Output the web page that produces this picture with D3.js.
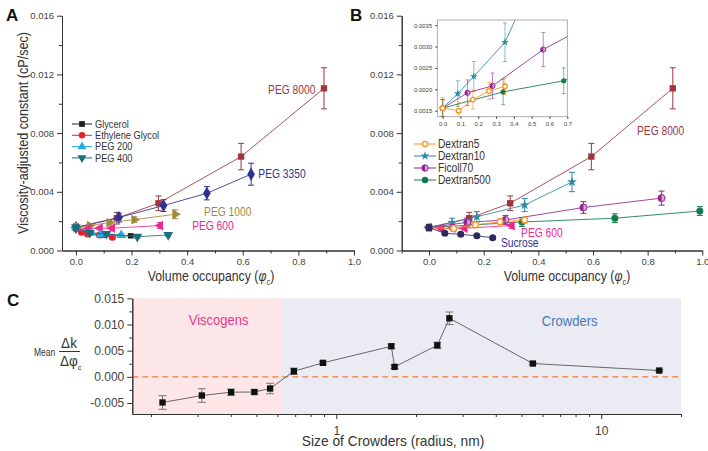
<html>
<head>
<script src="https://cdn.jsdelivr.net/npm/d3@7"></script>
<style>
  body { margin: 0; background: white; font-family: "Liberation Sans", Arial, Helvetica, sans-serif; }
  svg { display: block; }
  .tick text { fill: #444; }
  .domain, .tick line { stroke: #333; }
</style>
</head>
<body>
<svg id="fig" width="708" height="451"></svg>
<script>
// ---- panel A series: [phi, k, err]
const glycerol = [[0, 0.00157, 0.00015], [0.05, 0.0012, 0.0001], [0.1, 0.00103, 0.0001], [0.197, 0.001, 0.0001]];
const ethyleneGlycol = [[0, 0.00157, 0.00015], [0.02, 0.00125, 0.0001], [0.042, 0.00113, 0.0001], [0.085, 0.00105, 0.0001], [0.131, 0.0009, 0.0001]];
const peg200 = [[0, 0.00157, 0.00015], [0.055, 0.0012, 0.0001], [0.09, 0.00108, 0.0001], [0.163, 0.00105, 0.0001]];
const peg400 = [[0, 0.00157, 0.00015], [0.05, 0.0012, 0.0001], [0.11, 0.00113, 0.0001], [0.221, 0.00094, 0.0001], [0.332, 0.00106, 0.0001]];
const peg600 = [[0, 0.00157, 0.00015], [0.045, 0.0015, 0.0001], [0.086, 0.00152, 0.0001], [0.13, 0.00152, 0.00012], [0.303, 0.0017, 0.0002]];
const peg1000 = [[0, 0.00157, 0.00015], [0.05, 0.0017, 0.00012], [0.12, 0.0019, 0.00015], [0.21, 0.0021, 0.0002], [0.357, 0.00247, 0.0003]];
const peg3350 = [[0, 0.00157, 0.0002], [0.155, 0.00225, 0.0003], [0.315, 0.00306, 0.0004], [0.471, 0.0039, 0.00045], [0.63, 0.0052, 0.00075]];
const peg8000 = [[0, 0.00157, 0.0002], [0.147, 0.0022, 0.0004], [0.297, 0.00322, 0.0005], [0.594, 0.0064, 0.0009], [0.892, 0.01105, 0.0014]];

// ---- panel B series
const dextran5 = [[0, 0.00156, 0.00025], [0.09, 0.0015, 0.0002], [0.17, 0.00176, 0.00022], [0.26, 0.00196, 0.0002], [0.35, 0.00207, 0.0002]];
const dextran10 = [[0, 0.00156, 0.0002], [0.085, 0.0019, 0.0003], [0.175, 0.0023, 0.00035], [0.35, 0.0031, 0.00045], [0.523, 0.00467, 0.00066]];
const ficoll70 = [[0, 0.00156, 0.0002], [0.14, 0.00192, 0.0003], [0.28, 0.00208, 0.0003], [0.565, 0.00293, 0.0004], [0.851, 0.00357, 0.00048]];
const dextran500 = [[0, 0.00156, 0.0002], [0.34, 0.00194, 0.0003], [0.68, 0.0022, 0.0003], [0.991, 0.00269, 0.0003]];
const sucrose = [[0, 0.00156, 0.0002], [0.058, 0.00117, 0.0001], [0.116, 0.0011, 0.0001], [0.175, 0.001, 0.0001], [0.233, 0.00087, 0.0001]];

// ---- panel C
const radius = [0.221, 0.311, 0.401, 0.491, 0.563, 0.692, 0.891, 1.614, 1.66, 2.407, 2.673, 5.52, 16.56];
const meanSlope = [-0.0049, -0.00357, -0.00293, -0.0029, -0.00223, 0.00107, 0.00267, 0.00584, 0.0019, 0.00603, 0.01118, 0.00254, 0.0012];
const slopeErr = [0.0013, 0.0013, 0.0006, 0.0004, 0.001, 0.0006, 0.0003, 0.0004, 0.0003, 0.0006, 0.0012, 0.0002, 0.0002];
const viscogenLimit = 0.62;

// ---- ticks
const kTicks = [0, 0.004, 0.008, 0.012, 0.016];
const phiTicks = [0, 0.2, 0.4, 0.6, 0.8, 1.0];
const insetPhiTicks = [0, 0.1, 0.2, 0.3, 0.4, 0.5, 0.6, 0.7];
const insetKTicks = [0.0015, 0.002, 0.0025, 0.003, 0.0035];
const slopeTicks = [-0.005, 0, 0.005, 0.01, 0.015];
const radiusTicks = [1, 10];

const svg = d3.select("#fig");
const font = '"Liberation Sans", Arial, sans-serif';

function txt(g, x, y, s, o = {}) {
  let t = g.append("text")
    .attr("transform", `translate(${x},${y}) rotate(${o.rotate || 0}) scale(${o.sx || 0.82},1)`)
    .attr("font-family", font)
    .attr("font-size", o.size || 12)
    .attr("font-weight", o.weight || "normal")
    .attr("fill", o.fill || "#333")
    .attr("text-anchor", o.anchor || "start")
  if (s != null) t.text(s)
  return t
}

function marker(g, shape, color, x, y, r) {
  r = r || 3.5
  let k = (r / 3.5) * (r / 3.5)
  if (shape == "circle") {
    g.append("circle").attr("cx", x).attr("cy", y).attr("r", r).attr("fill", color)
  } else if (shape == "open") {
    g.append("circle").attr("cx", x).attr("cy", y).attr("r", r - 0.6).attr("fill", "white").attr("stroke", color).attr("stroke-width", 1.3)
  } else if (shape == "half") {
    g.append("circle").attr("cx", x).attr("cy", y).attr("r", r).attr("fill", "#d7a3da").attr("stroke", color).attr("stroke-width", 1)
    g.append("path").attr("d", `M${x},${y - r}A${r},${r} 0 0 0 ${x},${y + r}Z`).attr("fill", color)
  } else {
    let types = { square: d3.symbolSquare, diamond: d3.symbolDiamond, star: d3.symbolStar, tri: d3.symbolTriangle, triDown: d3.symbolTriangle, triRight: d3.symbolTriangle, triLeft: d3.symbolTriangle }
    let rot = { triDown: 180, triRight: 90, triLeft: -90 }[shape] || 0
    let size = { square: 40, diamond: 50, star: 30 }[shape] || 42
    g.append("path").attr("d", d3.symbol().type(types[shape]).size(size * k)())
      .attr("transform", `translate(${x},${y}) rotate(${rot})`).attr("fill", color)
  }
}

function drawSeries(g, data, s, x, y, cap) {
  let line = d3.line().x(d => x(d[0])).y(d => y(d[1]))
  g.append("path").attr("d", line(data)).attr("fill", "none").attr("stroke", s.color).attr("stroke-width", 1).attr("stroke-opacity", 0.85)
  data.forEach(d => {
    let eg = g.append("g").attr("stroke", s.color).attr("stroke-width", s.ew || 1).attr("stroke-opacity", s.eo || 1)
    eg.append("line").attr("x1", x(d[0])).attr("x2", x(d[0])).attr("y1", y(d[1] - d[2])).attr("y2", y(d[1] + d[2]))
    eg.append("line").attr("x1", x(d[0]) - cap).attr("x2", x(d[0]) + cap).attr("y1", y(d[1] - d[2])).attr("y2", y(d[1] - d[2]))
    eg.append("line").attr("x1", x(d[0]) - cap).attr("x2", x(d[0]) + cap).attr("y1", y(d[1] + d[2])).attr("y2", y(d[1] + d[2]))
  })
  data.forEach(d => marker(g, s.shape, s.color, x(d[0]), y(d[1]), s.r))
}

function phiTitle(g, x, y) {
  let t = txt(g, x, y, null, { size: 15, anchor: "middle", sx: 0.82 })
  t.append("tspan").text("Volume occupancy (")
  t.append("tspan").attr("font-style", "italic").text("φ")
  t.append("tspan").attr("font-size", 9).attr("dy", 4).text("c")
  t.append("tspan").attr("dy", -4).text(")")
}

function phiAxes(g, x, y, xMinor) {
  g.append("g").attr("transform", `translate(0,${y.range()[0]})`)
    .call(d3.axisBottom(x).tickValues(xMinor).tickSize(3).tickFormat("").tickSizeOuter(0))
  g.append("g").attr("transform", `translate(0,${y.range()[0]})`)
    .call(d3.axisBottom(x).tickValues(phiTicks).tickSize(5).tickFormat(d3.format(".1f")).tickSizeOuter(0))
    .selectAll("text").attr("font-size", 9.5)
  g.append("g").attr("transform", `translate(${x.range()[0]},0)`)
    .call(d3.axisLeft(y).tickValues([0.002, 0.006, 0.01, 0.014]).tickSize(3).tickFormat("").tickSizeOuter(0))
  g.append("g").attr("transform", `translate(${x.range()[0]},0)`)
    .call(d3.axisLeft(y).tickValues(kTicks).tickSize(5).tickFormat(d3.format(".3f")).tickSizeOuter(0))
    .selectAll("text").attr("font-size", 9.5)
  g.selectAll(".tick text").attr("font-family", font)
  g.selectAll("g").attr("font-family", font)
}

// ================= Panel A
const xA = d3.scaleLinear().domain([-0.05, 1.0]).range([62, 354])
const yA = d3.scaleLinear().domain([0, 0.016]).range([250.5, 15.7])
const gA = svg.append("g")
phiAxes(gA, xA, yA, [0.1, 0.3, 0.5, 0.7, 0.9])

const seriesA = [
  { data: peg8000, color: "#a0353c", shape: "square" },
  { data: peg3350, color: "#2e3192", shape: "diamond" },
  { data: peg1000, color: "#9c8a3e", shape: "triRight" },
  { data: peg600, color: "#ec2a8e", shape: "triLeft" },
  { data: glycerol, color: "#231f20", shape: "square", r: 3 },
  { data: ethyleneGlycol, color: "#e5212b", shape: "circle" },
  { data: peg200, color: "#27a9e1", shape: "tri" },
  { data: peg400, color: "#1b6e7c", shape: "triDown" }
]
seriesA.forEach(s => drawSeries(gA, s.data, s, xA, yA, 3))

const labelsA = [
  { name: "PEG 8000", phi: 0.861, k: 0.01066, color: "#a0353c", anchor: "end" },
  { name: "PEG 3350", phi: 0.656, k: 0.00494, color: "#2e3192", anchor: "start" },
  { name: "PEG 1000", phi: 0.461, k: 0.00235, color: "#9c8a3e", anchor: "start" },
  { name: "PEG 600", phi: 0.418, k: 0.0014, color: "#ec2a8e", anchor: "start" }
]
labelsA.forEach(l => txt(gA, xA(l.phi), yA(l.k), l.name, { size: 12.5, fill: l.color, anchor: l.anchor }))

const legendA = [
  { name: "Glycerol", color: "#231f20", shape: "square" },
  { name: "Ethylene Glycol", color: "#e5212b", shape: "circle" },
  { name: "PEG 200", color: "#27a9e1", shape: "tri" },
  { name: "PEG 400", color: "#1b6e7c", shape: "triDown" }
]
legendA.forEach((l, i) => {
  let ly = 124 + i * 11.3
  gA.append("line").attr("x1", 72).attr("x2", 92).attr("y1", ly).attr("y2", ly).attr("stroke", l.color).attr("stroke-width", 1)
  marker(gA, l.shape, l.color, 82, ly, 3.2)
  txt(gA, 95, ly + 3.6, l.name, { size: 10.5, fill: "#333", sx: 0.88 })
})

txt(gA, 28, 133, "Viscosity-adjusted constant (cP/sec)", { size: 15, anchor: "middle", rotate: -90, sx: 0.84 })
phiTitle(gA, 211, 281)
txt(gA, 6, 21, "A", { size: 17, weight: "bold", fill: "#111", sx: 1 })

// ================= Panel B
const xB = d3.scaleLinear().domain([-0.1, 1.0]).range([401.7, 702.3])
const yB = d3.scaleLinear().domain([0, 0.016]).range([250.5, 15.7])
const gB = svg.append("g")
phiAxes(gB, xB, yB, [-0.1, 0.1, 0.3, 0.5, 0.7, 0.9])

const seriesB = [
  { data: peg8000, color: "#a0353c", shape: "square" },
  { data: dextran10, color: "#2b8aa4", shape: "star" },
  { data: ficoll70, color: "#92278f", shape: "half" },
  { data: dextran500, color: "#137a4c", shape: "circle" },
  { data: peg600, color: "#ec2a8e", shape: "triLeft" },
  { data: dextran5, color: "#f7941d", shape: "open" },
  { data: sucrose, color: "#2b2b5e", shape: "circle" }
]
seriesB.forEach(s => drawSeries(gB, s.data, s, xB, yB, 3))

const labelsB = [
  { name: "PEG 8000", phi: 0.761, k: 0.00787, color: "#a0353c" },
  { name: "PEG 600", phi: 0.337, k: 0.00092, color: "#ec2a8e" },
  { name: "Sucrose", phi: 0.263, k: 0.00024, color: "#2e3192" }
]
labelsB.forEach(l => txt(gB, xB(l.phi), yB(l.k), l.name, { size: 12.5, fill: l.color }))

const legendB = [
  { name: "Dextran5", color: "#f7941d", shape: "open" },
  { name: "Dextran10", color: "#2b8aa4", shape: "star" },
  { name: "Ficoll70", color: "#92278f", shape: "half" },
  { name: "Dextran500", color: "#137a4c", shape: "circle" }
]
legendB.forEach((l, i) => {
  let ly = 144 + i * 12
  gB.append("line").attr("x1", 414).attr("x2", 436).attr("y1", ly).attr("y2", ly).attr("stroke", l.color).attr("stroke-width", 1)
  marker(gB, l.shape, l.color, 425, ly, 3.2)
  txt(gB, 438, ly + 4, l.name, { size: 12, fill: "#333", sx: 0.85 })
})
phiTitle(gB, 567, 281)
txt(gB, 350, 21, "B", { size: 17, weight: "bold", fill: "#111", sx: 1 })

// ---- inset
const xI = d3.scaleLinear().domain([-0.03, 0.7]).range([437.3, 567.3])
const yI = d3.scaleLinear().domain([0.00136, 0.00362]).range([116.7, 20])
const gI = svg.append("g")
gI.append("rect").attr("x", 437.3).attr("y", 20).attr("width", 130).attr("height", 96.7).attr("fill", "white").attr("stroke", "#999").attr("stroke-width", 0.8)
gI.append("defs").append("clipPath").attr("id", "insetClip")
  .append("rect").attr("x", 437.3).attr("y", 20).attr("width", 130).attr("height", 96.7)
gI.append("g").attr("transform", "translate(0,116.7)")
  .call(d3.axisBottom(xI).tickValues(insetPhiTicks).tickSize(2).tickFormat(d3.format(".1f")).tickSizeOuter(0))
gI.append("g").attr("transform", "translate(437.3,0)")
  .call(d3.axisLeft(yI).tickValues(insetKTicks).tickSize(2).tickFormat(d3.format(".4f")).tickSizeOuter(0))
gI.selectAll(".domain").remove()
gI.selectAll(".tick line").attr("stroke", "#999")
gI.selectAll(".tick text").attr("font-size", 6).attr("fill", "#666").attr("font-family", font)
let gIc = gI.append("g").attr("clip-path", "url(#insetClip)")
const seriesI = [
  { data: dextran10, color: "#2b8aa4", shape: "star", r: 2.8, ew: 0.8, eo: 0.7 },
  { data: ficoll70, color: "#92278f", shape: "half", r: 2.6, ew: 0.8, eo: 0.7 },
  { data: dextran500, color: "#137a4c", shape: "circle", r: 2.6, ew: 0.8, eo: 0.7 },
  { data: dextran5, color: "#f7941d", shape: "open", r: 2.9, ew: 0.8, eo: 0.7 }
]
seriesI.forEach(s => drawSeries(gIc, s.data, s, xI, yI, 2))

// ================= Panel C
const xC = d3.scaleLog().domain([0.17, 20]).range([132.3, 681])
const yC = d3.scaleLinear().domain([-0.0071, 0.015]).range([414, 298.3])
const gC = svg.append("g")
gC.append("rect").attr("x", xC(0.17)).attr("y", yC(0.015)).attr("width", xC(viscogenLimit) - xC(0.17)).attr("height", yC(-0.0071) - yC(0.015)).attr("fill", "#fce6e7")
gC.append("rect").attr("x", xC(viscogenLimit)).attr("y", yC(0.015)).attr("width", xC(20) - xC(viscogenLimit)).attr("height", yC(-0.0071) - yC(0.015)).attr("fill", "#ebebf4")
gC.append("line").attr("x1", xC(0.17)).attr("x2", xC(20)).attr("y1", yC(0)).attr("y2", yC(0))
  .attr("stroke", "#f47b3c").attr("stroke-width", 1.3).attr("stroke-dasharray", "6,4")

gC.append("g").attr("transform", "translate(0,414)")
  .call(d3.axisBottom(xC).tickValues([0.2, 0.3, 0.4, 0.5, 0.6, 0.7, 0.8, 0.9, 2, 3, 4, 5, 6, 7, 8, 9, 20]).tickSize(3).tickFormat("").tickSizeOuter(0))
gC.append("g").attr("transform", "translate(0,414)")
  .call(d3.axisBottom(xC).tickValues(radiusTicks).tickSize(5).tickFormat(d3.format("d")).tickSizeOuter(0))
  .selectAll("text").attr("font-size", 12).attr("dy", "1.1em")
gC.append("g").attr("transform", "translate(132.3,0)")
  .call(d3.axisLeft(yC).tickValues([-0.0025, 0.0025, 0.0075, 0.0125]).tickSize(3).tickFormat("").tickSizeOuter(0))
gC.append("g").attr("transform", "translate(132.3,0)")
  .call(d3.axisLeft(yC).tickValues(slopeTicks).tickSize(5).tickFormat(d => d3.format(".3f")(d).replace("−", "-")).tickSizeOuter(0))
  .selectAll("text").attr("font-size", 12)
gC.selectAll(".tick text").attr("font-family", font).attr("fill", "#333")

const pts = radius.map((r, i) => [r, meanSlope[i], slopeErr[i]])
gC.append("path").attr("d", d3.line().x(d => xC(d[0])).y(d => yC(d[1]))(pts)).attr("fill", "none").attr("stroke", "#666").attr("stroke-width", 1)
pts.forEach(d => {
  let eg = gC.append("g").attr("stroke", "#777").attr("stroke-width", 1)
  eg.append("line").attr("x1", xC(d[0])).attr("x2", xC(d[0])).attr("y1", yC(d[1] - d[2])).attr("y2", yC(d[1] + d[2]))
  ;[d[1] - d[2], d[1] + d[2]].forEach(v =>
    eg.append("line").attr("x1", xC(d[0]) - 4).attr("x2", xC(d[0]) + 4).attr("y1", yC(v)).attr("y2", yC(v)))
  marker(gC, "square", "#111", xC(d[0]), yC(d[1]))
})

txt(gC, xC(0.36), yC(0.0099), "Viscogens", { size: 14, fill: "#e8388a", anchor: "middle", sx: 0.93 })
txt(gC, xC(7.6), yC(0.0098), "Crowders", { size: 14, fill: "#4a78c0", anchor: "middle", sx: 0.93 })
txt(gC, 393, 446, "Size of Crowders (radius, nm)", { size: 15, anchor: "middle", sx: 0.92 })
txt(gC, 7, 306, "C", { size: 17, weight: "bold", fill: "#111", sx: 1 })

// y label: Mean Δk / Δφc
txt(gC, 34, 356, "Mean", { size: 10, sx: 0.85 })
txt(gC, 69, 348, "Δk", { size: 15, anchor: "middle", sx: 0.9 })
gC.append("line").attr("x1", 59).attr("x2", 80).attr("y1", 351.5).attr("y2", 351.5).attr("stroke", "#333").attr("stroke-width", 1)
let dphi = txt(gC, 60, 366, null, { size: 15, sx: 0.9 })
dphi.append("tspan").text("Δφ")
dphi.append("tspan").attr("font-size", 8).attr("dy", 4).text("c")
</script>
</body>
</html>
